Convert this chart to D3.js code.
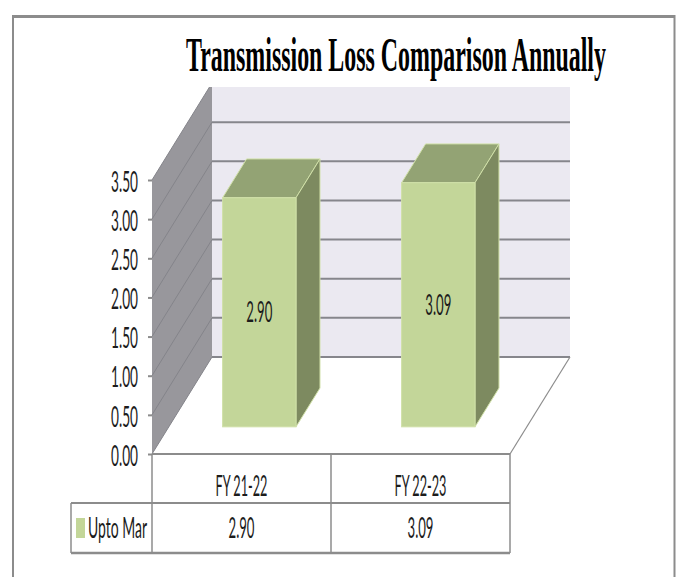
<!DOCTYPE html>
<meta charset="utf-8">
<style>
  html, body { margin: 0; background: #fff; }
  text { fill: #1c1c1c; font-family: Lato, sans-serif; font-size: 28px; }
  .title { fill: #000; font-family: "Liberation Serif", serif; font-weight: bold; font-size: 48px; }
</style>
<script src="https://cdn.jsdelivr.net/npm/d3@7"></script>
<body>
<script>

const titleText = "Transmission Loss Comparison Annually";
const categories = ["FY 21-22", "FY 22-23"];
const seriesName = "Upto Mar";
const seriesValues = [2.90, 3.09];
const tickValues = [0, 0.5, 1, 1.5, 2, 2.5, 3, 3.5];
const gridValues = [0, 0.5, 1, 1.5, 2, 2.5, 3];

const width = 678;
const height = 577;

// front plane of the fake 3d box
const left = 152;
const right = 510;
const base = 454;
const yAxisTop = 180;
const tableRow1 = 503;
const tableRow2 = 553;
const tableLeft = 71;

const y = d3.scaleLinear().domain([0, 3.5]).range([base, yAxisTop]);
const barHeight = d3.scaleLinear().domain([0, 3.5]).range([0, 276.5]);
const x = d3.scaleBand().domain(categories).range([left + 1, right + 1])
            .paddingInner(0.59).paddingOuter(0.295);
const xCell = d3.scaleBand().domain(categories).range([left, right]);

// depth 0 is the front of the floor, depth 1 the back wall
const depthX = d3.scaleLinear().domain([0, 1]).range([0, 60]);
const depthY = d3.scaleLinear().domain([0, 1]).range([0, -97]);
const barFront = 0.28;
const barBack = 0.68;

const svg = d3.select("body").append("svg")
              .attr("width", width)
              .attr("height", height)
              .style("display", "block");

const line = d3.line();
const poly = pts => line(pts) + "Z";

// squeezes a label sideways to the narrow look of the stretched original
function fit(sel, w) {
  sel.each(function() {
    const t = d3.select(this);
    const px = +t.attr("x") || 0;
    const sx = w / this.getComputedTextLength();
    t.attr("transform", `translate(${px},0) scale(${sx},1) translate(${-px},0)`);
  });
}

// outer frame, no bottom edge
svg.append("path")
   .attr("d", line([[13, height], [13, 16], [674.5, 16], [674.5, height]]))
   .attr("fill", "none").attr("stroke", "#8c8c8c").attr("stroke-width", 2);
svg.append("line").attr("x1", 13).attr("x2", 675).attr("y1", 16.5).attr("y2", 16.5)
   .attr("stroke", "#8c8c8c").attr("stroke-width", 3);

svg.append("text").attr("class", "title")
   .attr("x", 396).attr("y", 71).attr("text-anchor", "middle")
   .text(titleText).call(fit, 420);

// walls get cut off at the top in the original
svg.append("clipPath").attr("id", "wallClip")
   .append("rect").attr("x", 0).attr("y", 87).attr("width", width).attr("height", height);
const walls = svg.append("g").attr("clip-path", "url(#wallClip)");

const dx = depthX(1);
const dy = depthY(1);

walls.append("path")
     .attr("d", poly([[left + dx, y(0) + dy], [right + dx, y(0) + dy], [right + dx, y(3.5) + dy], [left + dx, y(3.5) + dy]]))
     .attr("fill", "#ebe9f1");
walls.append("path")
     .attr("d", poly([[left, y(0)], [left + dx, y(0) + dy], [left + dx, y(3.5) + dy], [left, y(3.5)]]))
     .attr("fill", "#98979c");

walls.selectAll(".side-grid").data(gridValues.concat([3.5])).enter().append("line")
     .attr("class", "side-grid")
     .attr("x1", left).attr("y1", d => y(d))
     .attr("x2", left + dx).attr("y2", d => y(d) + dy)
     .attr("stroke", "#84848a").attr("stroke-width", 1);
walls.selectAll(".back-grid").data(gridValues).enter().append("line")
     .attr("class", "back-grid")
     .attr("x1", left + dx).attr("x2", right + dx)
     .attr("y1", d => y(d) + dy).attr("y2", d => y(d) + dy)
     .attr("stroke", "#86868c").attr("stroke-width", 2);

// floor right edge
svg.append("line")
   .attr("x1", right).attr("y1", base).attr("x2", right + dx).attr("y2", base + dy)
   .attr("stroke", "#8c8c8c").attr("stroke-width", 1.2);

// bars
const bars = svg.selectAll(".bar")
                .data(categories.map((c, i) => ({cat: c, value: seriesValues[i]})))
                .enter().append("g").attr("class", "bar");

const fx = d => x(d.cat) + depthX(barFront);
const fw = x.bandwidth();
const fy = d => base + depthY(barFront);
const ox = depthX(barBack) - depthX(barFront);
const oy = depthY(barBack) - depthY(barFront);
const edge = "#d0e0a8";

bars.append("path")
    .attr("d", d => poly([[fx(d), fy(d) - barHeight(d.value)], [fx(d) + ox, fy(d) - barHeight(d.value) + oy],
                          [fx(d) + fw + ox, fy(d) - barHeight(d.value) + oy], [fx(d) + fw, fy(d) - barHeight(d.value)]]))
    .attr("fill", "#93a374").attr("stroke", edge);
bars.append("path")
    .attr("d", d => poly([[fx(d) + fw, fy(d)], [fx(d) + fw + ox, fy(d) + oy],
                          [fx(d) + fw + ox, fy(d) - barHeight(d.value) + oy], [fx(d) + fw, fy(d) - barHeight(d.value)]]))
    .attr("fill", "#7d8a60").attr("stroke", edge);
bars.append("rect")
    .attr("x", fx).attr("y", d => fy(d) - barHeight(d.value))
    .attr("width", fw).attr("height", d => barHeight(d.value))
    .attr("fill", "#c3d699").attr("stroke", edge);
bars.append("text")
    .attr("x", d => fx(d) + fw / 2)
    .attr("y", d => fy(d) - barHeight(d.value) / 2 + 10)
    .attr("text-anchor", "middle")
    .text(d => d.value.toFixed(2))
    .call(fit, 26);

// value axis
const axis = svg.append("g").attr("transform", `translate(${left},0)`)
                .call(d3.axisLeft(y).tickValues(tickValues).tickFormat(d3.format(".2f")).tickSize(4).tickPadding(10));
axis.select(".domain").remove();
axis.selectAll(".tick line").attr("stroke", "#8c8c8c").attr("stroke-width", 2);
axis.selectAll(".tick text")
    .attr("fill", "#1c1c1c").attr("font-size", null).attr("font-family", null)
    .attr("dy", "0.4em")
    .call(fit, 27);

// data table under the axis
const tableLine = "#8c8c8c";
const hLines = svg.append("g");
hLines.append("line").attr("x1", left).attr("x2", right).attr("y1", base).attr("y2", base)
      .attr("stroke", tableLine).attr("stroke-width", 2);
hLines.append("line").attr("x1", tableLeft).attr("x2", right).attr("y1", tableRow1).attr("y2", tableRow1)
      .attr("stroke", tableLine).attr("stroke-width", 2);
hLines.append("line").attr("x1", tableLeft).attr("x2", right).attr("y1", tableRow2).attr("y2", tableRow2)
      .attr("stroke", tableLine).attr("stroke-width", 2.5);

const edges = [left].concat(categories.map(c => xCell(c) + xCell.bandwidth()));
svg.selectAll(".cell-edge").data(edges).enter().append("line")
   .attr("class", "cell-edge")
   .attr("x1", d => d).attr("x2", d => d)
   .attr("y1", base).attr("y2", tableRow2)
   .attr("stroke", tableLine).attr("stroke-width", 1.5);
svg.append("line").attr("x1", tableLeft).attr("x2", tableLeft)
   .attr("y1", tableRow1).attr("y2", tableRow2)
   .attr("stroke", tableLine).attr("stroke-width", 1.5);

svg.selectAll(".cat-label").data(categories).enter().append("text")
   .attr("class", "cat-label")
   .attr("x", d => xCell(d) + xCell.bandwidth() / 2)
   .attr("y", 496).attr("text-anchor", "middle")
   .text(d => d).call(fit, 52);
svg.selectAll(".val-label").data(seriesValues).enter().append("text")
   .attr("class", "val-label")
   .attr("x", (d, i) => xCell(categories[i]) + xCell.bandwidth() / 2)
   .attr("y", 538).attr("text-anchor", "middle")
   .text(d => d.toFixed(2)).call(fit, 26);

svg.append("rect").attr("x", 76).attr("y", 518).attr("width", 9).attr("height", 20).attr("fill", "#c3d699");
svg.append("text").attr("x", 88).attr("y", 538).text(seriesName).call(fit, 59);
</script>
</body>
